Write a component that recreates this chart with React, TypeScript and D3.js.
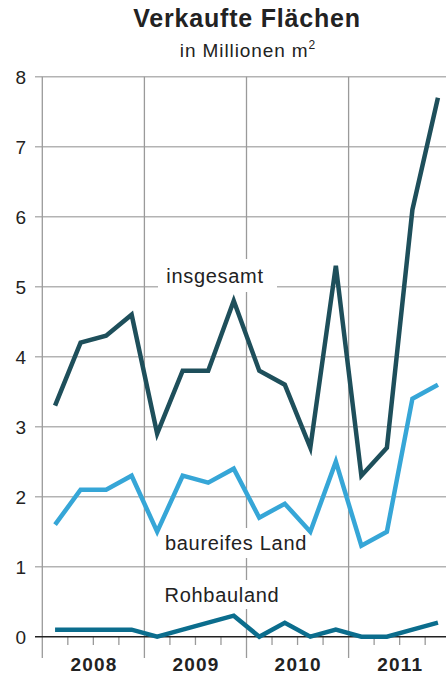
import React from "react";
import * as d3 from "d3";

// quarterly values 2008–2011, in million m²
const years = ["2008", "2009", "2010", "2011"];
const insgesamt = [3.3, 4.2, 4.3, 4.6, 2.9, 3.8, 3.8, 4.8, 3.8, 3.6, 2.7, 5.3, 2.3, 2.7, 6.1, 7.7];
const baureifesLand = [1.6, 2.1, 2.1, 2.3, 1.5, 2.3, 2.2, 2.4, 1.7, 1.9, 1.5, 2.5, 1.3, 1.5, 3.4, 3.6];
const rohbauland = [0.1, 0.1, 0.1, 0.1, 0, 0.1, 0.2, 0.3, 0, 0.2, 0, 0.1, 0, 0, 0.1, 0.2];
const yTicks = [0, 1, 2, 3, 4, 5, 6, 7, 8];

const W = 446;
const H = 677;
const FONT = "'Liberation Sans', Arial, Helvetica, sans-serif";

const series = [
  { name: "insgesamt", values: insgesamt, color: "#1e4f5b", label: { x: 215, y: 283, box: [158, 259, 119, 33] } },
  { name: "baureifes Land", values: baureifesLand, color: "#36a6d7", label: { x: 236, y: 550, box: [157, 528, 151, 30] } },
  { name: "Rohbauland", values: rohbauland, color: "#0b6d8d", label: { x: 222, y: 602, box: [157, 580, 130, 29] } },
];

export default function App() {
  const x = d3.scaleLinear().domain([0, 16]).range([42.3, 42.3 + 102.1 * 4]);
  const y = d3.scaleLinear().domain([0, 8]).range([636.7, 76.7]);

  const line = d3
    .line<number>()
    .x((_, i) => x(i + 0.5))
    .y((d) => y(d));

  const quarterTicks = d3.range(1, 16).filter((q) => q % 4 !== 0);

  return (
    <svg
      width={W}
      height={H}
      style={{ position: "absolute", left: 0, top: 0, background: "#fff" }}
      fontFamily={FONT}
    >
      {/* title */}
      <text x={247} y={27} textAnchor="middle" fontSize={25} fontWeight="bold" fill="#222" letterSpacing={0.8}>
        Verkaufte Flächen
      </text>
      <text x={248} y={56.5} textAnchor="middle" fontSize={19} fill="#222" letterSpacing={0.9}>
        in Millionen m<tspan dy={-7.5} fontSize={12}>2</tspan>
      </text>

      {/* horizontal grid */}
      {yTicks.slice(1).map((t) => (
        <line key={t} x1={35} x2={W} y1={y(t)} y2={y(t)} stroke="#b3b3b3" strokeWidth={1.4} />
      ))}
      {/* year dividers */}
      {years.map((yr, i) => (
        <line key={yr} x1={x(i * 4)} x2={x(i * 4)} y1={y(8)} y2={658} stroke="#9a9a9a" strokeWidth={1.3} />
      ))}
      {/* quarter ticks */}
      {quarterTicks.map((q) => (
        <line key={q} x1={x(q)} x2={x(q)} y1={y(0)} y2={645} stroke="#9a9a9a" strokeWidth={1.3} />
      ))}

      {/* y tick labels */}
      {yTicks.map((t) => (
        <text key={t} x={26} y={y(t) + 7} textAnchor="end" fontSize={19} fill="#222">
          {t}
        </text>
      ))}

      {/* year labels */}
      {years.map((yr, i) => (
        <text
          key={yr}
          x={x(i * 4 + 2) + 0.6}
          y={670.5}
          textAnchor="middle"
          fontSize={19}
          fontWeight="bold"
          fill="#222"
          letterSpacing={1.2}
        >
          {yr}
        </text>
      ))}

      {/* label backgrounds */}
      {series.map((s) => (
        <rect
          key={s.name}
          x={s.label.box[0]}
          y={s.label.box[1]}
          width={s.label.box[2]}
          height={s.label.box[3]}
          fill="#fff"
        />
      ))}

      {/* zero line */}
      <line x1={35} x2={W} y1={y(0)} y2={y(0)} stroke="#222" strokeWidth={1.6} />

      {/* series */}
      {series.map((s) => (
        <path
          key={s.name}
          d={line(s.values) ?? ""}
          fill="none"
          stroke={s.color}
          strokeWidth={4.5}
          strokeLinejoin="miter"
        />
      ))}

      {/* series labels */}
      {series.map((s) => (
        <text
          key={s.name}
          x={s.label.x}
          y={s.label.y}
          textAnchor="middle"
          fontSize={20}
          fill="#222"
          letterSpacing={0.7}
        >
          {s.name}
        </text>
      ))}
    </svg>
  );
}
